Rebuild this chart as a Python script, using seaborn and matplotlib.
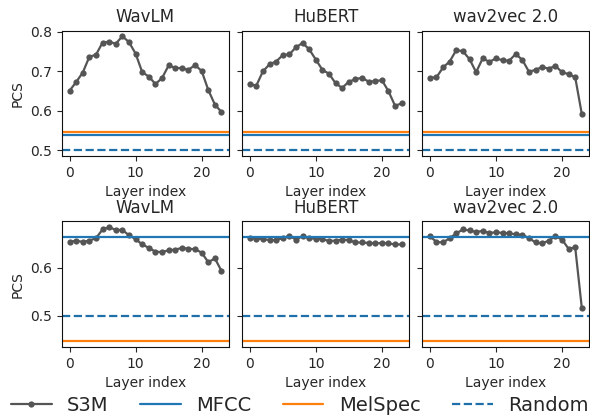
import matplotlib
matplotlib.use("Agg")
import matplotlib.pyplot as plt
from matplotlib.ticker import MultipleLocator
from matplotlib.lines import Line2D
import seaborn as sns
import pandas as pd
import numpy as np

models = ["WavLM", "HuBERT", "wav2vec 2.0"]
layers = list(range(24))

# Row 1 scores per layer
top_wavlm = [0.651, 0.673, 0.697, 0.737, 0.742, 0.773, 0.775, 0.770, 0.789, 0.774, 0.745, 0.698,
             0.687, 0.668, 0.683, 0.715, 0.709, 0.708, 0.704, 0.716, 0.701, 0.653, 0.616, 0.597]
top_hubert = [0.668, 0.664, 0.700, 0.718, 0.725, 0.741, 0.743, 0.761, 0.772, 0.756, 0.730, 0.704,
              0.694, 0.670, 0.658, 0.674, 0.680, 0.684, 0.674, 0.675, 0.678, 0.650, 0.613, 0.619]
top_w2v = [0.684, 0.685, 0.710, 0.725, 0.754, 0.751, 0.731, 0.698, 0.733, 0.724, 0.733, 0.728,
           0.727, 0.744, 0.729, 0.699, 0.704, 0.711, 0.707, 0.714, 0.698, 0.693, 0.685, 0.592]

# Row 2 scores per layer
bot_wavlm = [0.653, 0.656, 0.653, 0.656, 0.661, 0.679, 0.684, 0.678, 0.678, 0.667, 0.659, 0.648,
             0.641, 0.633, 0.632, 0.636, 0.637, 0.641, 0.639, 0.638, 0.631, 0.611, 0.619, 0.593]
bot_hubert = [0.661, 0.660, 0.659, 0.657, 0.657, 0.661, 0.666, 0.658, 0.665, 0.661, 0.660, 0.659,
              0.655, 0.656, 0.658, 0.657, 0.652, 0.652, 0.651, 0.650, 0.651, 0.650, 0.648, 0.648]
bot_w2v = [0.665, 0.653, 0.652, 0.661, 0.671, 0.679, 0.677, 0.674, 0.676, 0.672, 0.673, 0.672,
           0.671, 0.669, 0.668, 0.661, 0.652, 0.650, 0.656, 0.665, 0.658, 0.639, 0.642, 0.516]

# Baselines per row
mfcc = [0.538, 0.664]
melspec = [0.547, 0.447]
random_base = [0.500, 0.500]

rows = [[top_wavlm, top_hubert, top_w2v], [bot_wavlm, bot_hubert, bot_w2v]]

sns.set_style("ticks")
plt.rcParams["font.family"] = ["DejaVu Sans"]

c_s3m = "#555555"
c_mfcc = "#1f77b4"
c_mel = "#ff7f0e"
c_rand = "#1f6fa8"

fig, axes = plt.subplots(2, 3, figsize=(5.9, 4.18), dpi=100, sharey="row")
fig.subplots_adjust(left=0.105, right=0.999, top=0.927, bottom=0.17, wspace=0.078, hspace=0.52)

for r in range(2):
    for c in range(3):
        ax = axes[r, c]
        df = pd.DataFrame({"layer": layers, "pcs": rows[r][c]})
        sns.lineplot(data=df, x="layer", y="pcs", ax=ax, color=c_s3m, marker="o",
                     markersize=4.5, markeredgewidth=0, linewidth=1.6)
        ax.axhline(mfcc[r], color=c_mfcc, linewidth=1.6)
        ax.axhline(melspec[r], color=c_mel, linewidth=1.6)
        ax.axhline(random_base[r], color=c_rand, linewidth=1.6, linestyle="--")
        ax.set_title(models[c], fontsize=12)
        ax.set_xlabel("Layer index", fontsize=10)
        ax.set_ylabel("PCS" if c == 0 else "", fontsize=10)
        ax.xaxis.set_major_locator(MultipleLocator(10))
        ax.yaxis.set_major_locator(MultipleLocator(0.1))
        ax.tick_params(labelsize=10)
        for s in ax.spines.values():
            s.set_color("#111111")
    axes[r, 0].yaxis.set_major_formatter(plt.FuncFormatter(lambda v, p: f"{v:.1f}"))

handles = [
    Line2D([], [], color=c_s3m, marker="o", markersize=4.5, markeredgewidth=0, linewidth=1.6),
    Line2D([], [], color=c_mfcc, linewidth=1.6),
    Line2D([], [], color=c_mel, linewidth=1.6),
    Line2D([], [], color=c_rand, linewidth=1.6, linestyle="--"),
]
fig.legend(handles, ["S3M", "MFCC", "MelSpec", "Random"], loc="center",
           bbox_to_anchor=(0.508, 0.03), ncol=4, frameon=False, fontsize=14,
           handlelength=2.1, handletextpad=0.8, columnspacing=1.6)

fig.savefig("out.png", dpi=100)
